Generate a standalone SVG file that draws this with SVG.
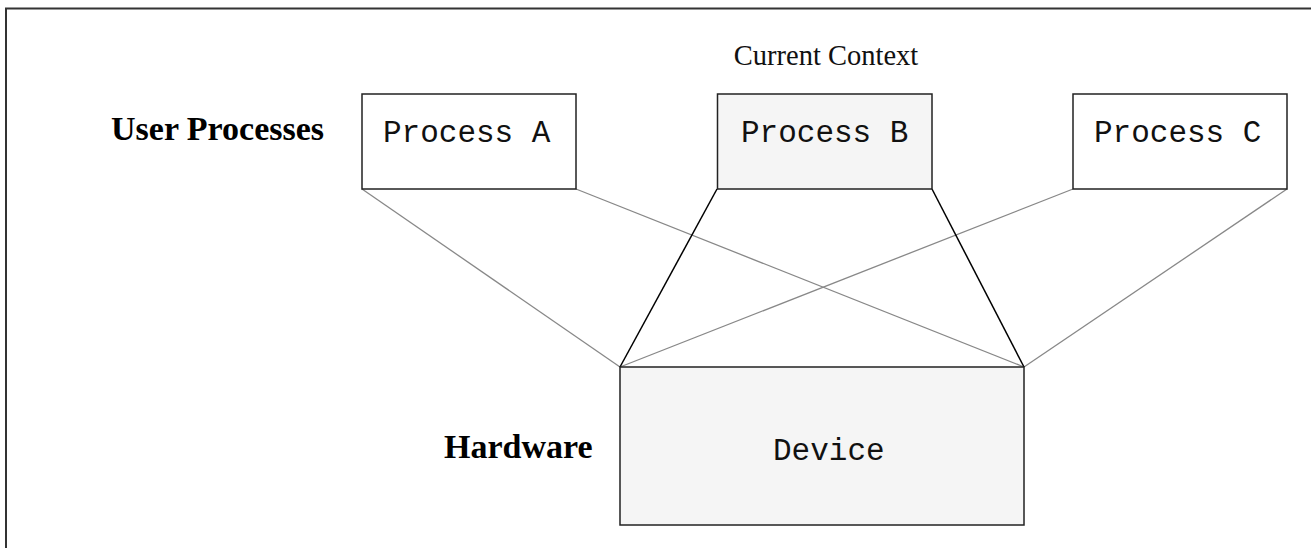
<svg xmlns="http://www.w3.org/2000/svg" width="1311" height="548" viewBox="0 0 1311 548">
<style>
.box{stroke:#222;stroke-width:1.5}
.plain{fill:#fff}
.cur{fill:#f5f5f5}
.mono{font-family:"Liberation Mono","Courier New",monospace;font-size:31px;fill:#111}
.lbl{font-family:"Liberation Serif","Times New Roman",serif;font-weight:bold;font-size:34px;fill:#000}
.ctx{font-family:"Liberation Serif","Times New Roman",serif;font-size:28.5px;fill:#111}
.gray{stroke:#888;stroke-width:1.3;fill:none}
.dark{stroke:#000;stroke-width:1.5;fill:none}
</style>
<rect width="1311" height="548" fill="#fff"/>
<path d="M6,548 V8.5 H1311" fill="none" stroke="#333" stroke-width="2"/>
<g id="connectors">
<line class="gray" x1="362" y1="189" x2="620" y2="367"/>
<line class="gray" x1="576" y1="189" x2="1024" y2="367"/>
<line class="gray" x1="1073" y1="189" x2="620" y2="367"/>
<line class="gray" x1="1287" y1="189" x2="1024" y2="367"/>
<line class="dark" x1="717" y1="189" x2="620" y2="367"/>
<line class="dark" x1="932" y1="189" x2="1024" y2="367"/>
</g>
<g id="label-user-processes"><text class="lbl" x="111" y="140">User Processes</text></g>
<g id="label-hardware"><text class="lbl" x="444" y="458">Hardware</text></g>
<g id="label-current-context"><text class="ctx" x="826" y="65" text-anchor="middle">Current Context</text></g>
<g id="process-a">
<rect class="box plain" x="362" y="94" width="214" height="95"/>
<text class="mono" x="383" y="142">Process A</text>
</g>
<g id="process-b">
<rect class="box cur" x="717.5" y="94" width="214.5" height="95"/>
<text class="mono" x="741" y="142">Process B</text>
</g>
<g id="process-c">
<rect class="box plain" x="1073" y="94" width="214" height="95"/>
<text class="mono" x="1094" y="142">Process C</text>
</g>
<g id="device">
<rect class="box cur" x="620" y="367" width="404" height="158"/>
<text class="mono" x="773" y="460">Device</text>
</g>
</svg>
